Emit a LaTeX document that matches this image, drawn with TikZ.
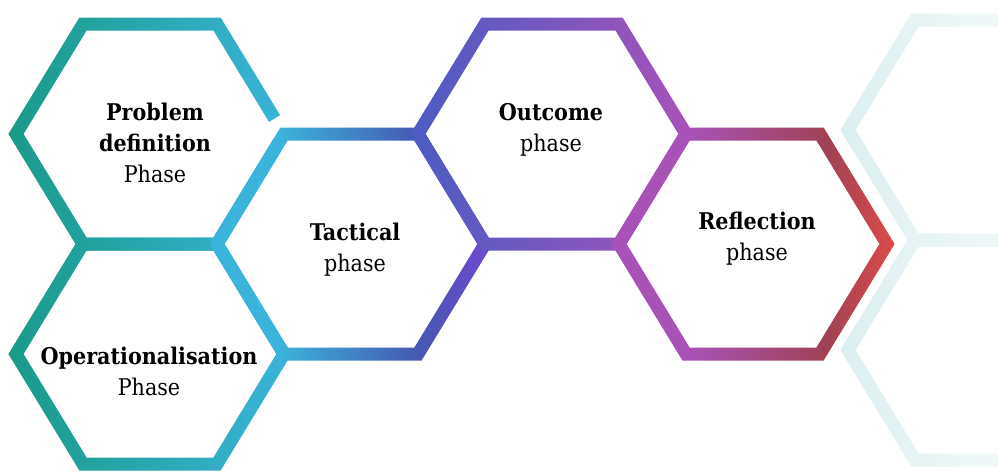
\documentclass[tikz,border=0pt]{standalone}
\usepackage{fontspec}
\setmainfont{DejaVu Serif Condensed}
\usetikzlibrary{calc}

\definecolor{tealA}{HTML}{1A9A88}
\definecolor{tealB}{HTML}{28A8AA}
\definecolor{skyA}{HTML}{3AB4DA}
\definecolor{blueA}{HTML}{4658B2}
\definecolor{violetA}{HTML}{7048D2}
\definecolor{indigoA}{HTML}{4B5CC4}
\definecolor{plumA}{HTML}{8A50C8}
\definecolor{purpleA}{HTML}{A852B8}
\definecolor{wineA}{HTML}{A04254}
\definecolor{redA}{HTML}{DE4A4A}
\definecolor{paleA}{HTML}{DCEFF0}

\pgfdeclarehorizontalshading{tactshade}{100bp}{color(0bp)=(skyA); color(25bp)=(skyA);
  color(37bp)=(skyA); color(62bp)=(blueA); color(75bp)=(violetA); color(100bp)=(violetA)}
\pgfdeclarehorizontalshading{reflshade}{100bp}{color(0bp)=(purpleA); color(25bp)=(purpleA);
  color(38bp)=(purpleA); color(63bp)=(wineA); color(75bp)=(redA); color(100bp)=(redA)}

\tikzset{
  phase/.style={align=center, font=\fontsize{23}{31}\selectfont, inner sep=0pt},
}

% hexagon ring round a centre: x, y, shading
\newcommand{\hexring}[3]{%
  \shade[even odd rule, #3]
    ({#1-141.6},#2) -- ({#1-70.6},{#2-116.5}) -- ({#1+70.6},{#2-116.5}) --
    ({#1+141.6},#2) -- ({#1+70.6},{#2+116.5}) -- ({#1-70.6},{#2+116.5}) -- cycle
    ({#1-126.4},#2) -- ({#1-63.4},{#2-103.5}) -- ({#1+63.4},{#2-103.5}) --
    ({#1+126.4},#2) -- ({#1+63.4},{#2+103.5}) -- ({#1-63.4},{#2+103.5}) -- cycle;
}

\begin{document}
\begin{tikzpicture}[x=1pt, y=-1pt]
  \useasboundingbox (0,0) rectangle (998,474);
  \fill[white] (0,0) rectangle (998,474);

  % faded ones on the right
  \hexring{982}{130}{left color=paleA, right color=white}
  \hexring{982}{350}{left color=paleA, right color=white}

  \hexring{150}{134}{left color=tealA, middle color=tealB, right color=skyA}
  \hexring{150}{354}{left color=tealA, middle color=tealB, right color=skyA}
  % open end of the first one
  \coordinate (cut) at (274.6,118.6);
  \fill[white] ($(cut)+(10.3,-6.2)$) -- ($(cut)+(-10.3,6.2)$) -- ++(20.8,34.2) -- ++(20.6,-12.4) -- cycle;
  \hexring{351}{244}{shading=tactshade}
  \hexring{552}{134}{left color=indigoA, middle color=plumA, right color=purpleA}
  \hexring{753}{244}{shading=reflshade}

  \path (155,143) node [phase] (prob) {\textbf{Problem}\\\textbf{definition}\\Phase};
  \path (149,371) node [phase] (oper) {\textbf{Operationalisation}\\Phase};
  \path (355,250) node [phase] (tact) {\textbf{Tactical}\\phase};
  \path (551,130) node [phase] (outc) {\textbf{Outcome}\\phase};
  \path (757,239) node [phase] (refl) {\textbf{Reflection}\\phase};
\end{tikzpicture}
\end{document}
